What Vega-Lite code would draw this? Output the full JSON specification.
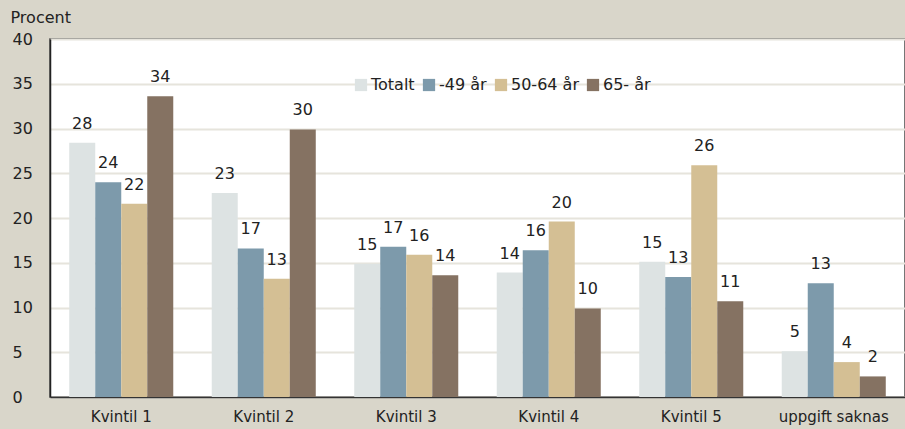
{
  "$schema": "https://vega.github.io/schema/vega-lite/v6.json",
  "width": 855,
  "height": 358,
  "autosize": {"type": "none"},
  "padding": {"left": 50, "top": 39, "right": 0, "bottom": 32},
  "background": "#d9d6ca",
  "config": {
    "font": "DejaVu Sans",
    "view": {"fill": "white", "stroke": "#4a4a4a", "strokeWidth": 1.5}
  },
  "data": {
    "values": [
      {"kat": "Kvintil 1", "grupp": "Totalt", "v": 28.4},
      {"kat": "Kvintil 1", "grupp": "-49 år", "v": 24.0},
      {"kat": "Kvintil 1", "grupp": "50-64 år", "v": 21.6},
      {"kat": "Kvintil 1", "grupp": "65- år", "v": 33.6},
      {"kat": "Kvintil 2", "grupp": "Totalt", "v": 22.8},
      {"kat": "Kvintil 2", "grupp": "-49 år", "v": 16.6},
      {"kat": "Kvintil 2", "grupp": "50-64 år", "v": 13.2},
      {"kat": "Kvintil 2", "grupp": "65- år", "v": 29.9},
      {"kat": "Kvintil 3", "grupp": "Totalt", "v": 14.9},
      {"kat": "Kvintil 3", "grupp": "-49 år", "v": 16.8},
      {"kat": "Kvintil 3", "grupp": "50-64 år", "v": 15.9},
      {"kat": "Kvintil 3", "grupp": "65- år", "v": 13.6},
      {"kat": "Kvintil 4", "grupp": "Totalt", "v": 13.9},
      {"kat": "Kvintil 4", "grupp": "-49 år", "v": 16.4},
      {"kat": "Kvintil 4", "grupp": "50-64 år", "v": 19.6},
      {"kat": "Kvintil 4", "grupp": "65- år", "v": 9.9},
      {"kat": "Kvintil 5", "grupp": "Totalt", "v": 15.1},
      {"kat": "Kvintil 5", "grupp": "-49 år", "v": 13.4},
      {"kat": "Kvintil 5", "grupp": "50-64 år", "v": 25.9},
      {"kat": "Kvintil 5", "grupp": "65- år", "v": 10.7},
      {"kat": "uppgift saknas", "grupp": "Totalt", "v": 5.1},
      {"kat": "uppgift saknas", "grupp": "-49 år", "v": 12.7},
      {"kat": "uppgift saknas", "grupp": "50-64 år", "v": 3.9},
      {"kat": "uppgift saknas", "grupp": "65- år", "v": 2.3}
    ]
  },
  "encoding": {
    "x": {
      "field": "kat", "type": "nominal", "sort": null,
      "scale": {"paddingInner": 0.27, "paddingOuter": 0.135},
      "axis": {
        "title": null, "labelAngle": 0, "labelFontSize": 15, "labelColor": "#222",
        "labelPadding": 12, "domainColor": "#333", "domainWidth": 1.5,
        "ticks": false, "grid": false
      }
    },
    "xOffset": {"field": "grupp", "type": "nominal", "sort": ["Totalt", "-49 år", "50-64 år", "65- år"]},
    "y": {
      "field": "v", "type": "quantitative",
      "scale": {"domain": [0, 40], "nice": false},
      "axis": {
        "title": "Procent", "titleAngle": 0, "titleAnchor": "end", "titleAlign": "left",
        "titleX": -40, "titleY": -14, "titleFontSize": 16, "titleFontWeight": "normal", "titleColor": "#222",
        "values": [0, 5, 10, 15, 20, 25, 30, 35, 40], "labelFontSize": 16, "labelColor": "#222",
        "labelAlign": "left", "labelPadding": 38, "ticks": false,
        "domainColor": "#222", "domainWidth": 1.5,
        "gridColor": "#e6e4dc", "gridWidth": 2
      }
    }
  },
  "layer": [
    {
      "mark": {"type": "bar"},
      "encoding": {
        "color": {
          "field": "grupp", "type": "nominal",
          "sort": ["Totalt", "-49 år", "50-64 år", "65- år"],
          "scale": {"domain": ["Totalt", "-49 år", "50-64 år", "65- år"], "range": ["#dde3e3", "#7d9aab", "#d4bf94", "#857262"]},
          "legend": {
            "title": null, "orient": "none", "direction": "horizontal",
            "legendX": 303, "legendY": 38, "symbolType": "square", "symbolSize": 150,
            "symbolStrokeWidth": 0, "labelFontSize": 16, "labelColor": "#222",
            "columnPadding": 6, "labelOffset": 2
          }
        }
      }
    },
    {
      "mark": {"type": "text", "baseline": "bottom", "dy": -11, "fontSize": 16, "color": "#222"},
      "encoding": {
        "text": {"field": "v", "type": "quantitative", "format": ".0f"}
      }
    }
  ]
}
